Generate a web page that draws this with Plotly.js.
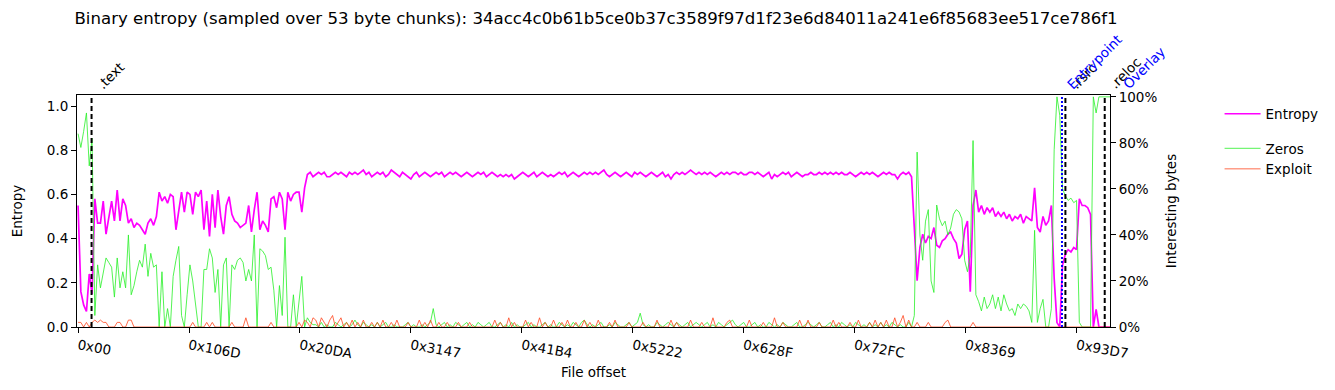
<!DOCTYPE html>
<html>
<head>
<meta charset="utf-8">
<script src="https://cdn.plot.ly/plotly-3.0.1.min.js"></script>
<style>html,body{margin:0;padding:0;background:#fff;}#chart{width:1335px;height:390px;}</style>
</head>
<body>
<div id="chart"></div>
<script>
// ---- data ----
const chunkBytes = 53;      // sampling chunk
const samplesPerPoint = 2;  // each point spans two chunks

const entropy = [
0.55,0.16,0.10,0.07,0.24,0.15,0.58,0.47,0.47,0.57,
0.42,0.50,0.57,0.48,0.62,0.48,0.58,0.55,0.47,0.49,
0.45,0.47,0.46,0.44,0.42,0.47,0.49,0.46,0.50,0.61,
0.57,0.59,0.56,0.60,0.59,0.44,0.53,0.61,0.52,0.61,
0.60,0.51,0.61,0.59,0.62,0.44,0.57,0.41,0.60,0.45,
0.62,0.50,0.42,0.55,0.59,0.51,0.48,0.47,0.45,0.46,
0.47,0.55,0.43,0.53,0.61,0.44,0.48,0.46,0.43,0.58,
0.59,0.54,0.61,0.58,0.44,0.61,0.57,0.60,0.61,0.61,
0.52,0.63,0.69,0.70,0.68,
0.69,0.70,0.69,0.70,0.68,0.68,0.69,0.70,0.69,0.70,
0.69,0.68,0.70,0.69,0.70,0.69,0.70,0.71,0.69,0.70,
0.68,0.69,0.70,0.69,0.70,0.68,0.69,0.71,0.70,0.69,
0.68,0.70,0.69,0.68,0.67,0.69,0.70,0.68,0.69,0.70,
0.69,0.68,0.69,0.70,0.69,0.70,0.68,0.69,0.70,0.69,
0.70,0.69,0.68,0.69,0.70,0.69,0.68,0.69,0.70,0.69,
0.70,0.68,0.69,0.70,0.69,0.68,0.69,0.68,0.69,0.68,
0.69,0.67,0.68,0.69,0.70,0.69,0.68,0.69,0.70,0.68,
0.69,0.70,0.69,0.68,0.69,0.68,0.69,0.70,0.69,0.70,
0.68,0.69,0.70,0.69,0.68,0.69,0.70,0.69,0.70,0.69,
0.70,0.69,0.70,0.71,0.69,0.68,0.69,0.70,0.69,0.68,
0.69,0.70,0.69,0.68,0.70,0.69,0.70,0.69,0.68,0.69,
0.70,0.69,0.68,0.69,0.70,0.68,0.69,0.67,0.69,0.70,
0.69,0.70,0.69,0.70,0.71,0.70,0.69,0.70,0.69,0.70,
0.69,0.70,0.69,0.68,0.69,0.70,0.69,0.70,0.69,0.70,
0.70,0.69,0.70,0.69,0.69,0.70,0.70,0.69,0.70,0.69,
0.68,0.69,0.70,0.67,0.69,0.68,0.69,0.70,0.69,0.70,
0.68,0.69,0.70,0.69,0.68,0.69,0.69,0.70,0.69,0.69,
0.70,0.69,0.70,0.69,0.70,0.69,0.70,0.69,0.70,0.69,
0.69,0.70,0.69,0.68,0.69,0.70,0.69,0.70,0.69,0.70,
0.69,0.68,0.69,0.70,0.69,0.70,0.69,0.69,0.67,0.69,
0.70,
0.69,0.70,0.68,0.45,0.21,0.36,0.42,0.38,0.41,0.40,
0.45,0.37,0.36,0.39,0.40,0.42,0.43,0.40,0.38,0.31,
0.33,0.44,0.48,0.16,0.55,0.62,0.52,0.55,0.51,0.54,
0.52,0.54,0.50,0.52,0.50,0.52,0.49,0.51,0.48,0.50,
0.49,0.51,0.47,0.50,0.49,0.48,0.63,0.45,0.43,0.50,
0.46,0.48,0.55,0.22,0.02,0.00,0.28,0.33,0.35,0.34,
0.36,0.35,0.58,0.55,0.55,0.54,0.51,0.00,0.08,0.00,
0.00,0.00,0.00,0.00,0.00
];

const zeros = [
0.84,0.78,0.85,0.93,0.70,0.82,0.05,0.27,0.17,0.24,
0.30,0.28,0.26,0.13,0.30,0.17,0.24,0.17,0.40,0.14,
0.18,0.24,0.29,0.26,0.36,0.22,0.32,0.26,0.27,0.00,
0.24,0.00,0.08,0.00,0.22,0.29,0.35,0.05,0.00,0.14,
0.27,0.20,0.10,0.00,0.00,0.25,0.25,0.34,0.30,0.15,
0.25,0.00,0.27,0.30,0.00,0.27,0.25,0.29,0.30,0.28,
0.20,0.25,0.20,0.40,0.00,0.34,0.33,0.31,0.25,0.26,
0.16,0.00,0.18,0.05,0.39,0.00,0.00,0.14,0.00,0.10,
0.22,0.00,0.04,0.02,0.01,
0.01,0.00,0.02,0.00,0.01,0.00,0.00,0.02,0.01,0.00,
0.01,0.02,0.00,0.01,0.03,0.01,0.00,0.02,0.01,0.00,
0.01,0.00,0.02,0.00,0.01,0.02,0.00,0.00,0.01,0.00,
0.00,0.00,0.01,0.02,0.00,0.01,0.00,0.00,0.01,0.00,
0.01,0.02,0.08,0.01,0.00,0.01,0.02,0.00,0.01,0.00,
0.02,0.01,0.00,0.01,0.02,0.00,0.01,0.00,0.02,0.01,
0.00,0.01,0.02,0.00,0.00,0.01,0.02,0.00,0.01,0.00,
0.02,0.00,0.01,0.00,0.00,0.01,0.02,0.00,0.01,0.00,
0.00,0.01,0.02,0.00,0.01,0.00,0.00,0.02,0.01,0.00,
0.01,0.00,0.02,0.01,0.00,0.02,0.03,0.01,0.00,0.01,
0.00,0.01,0.02,0.00,0.00,0.01,0.00,0.02,0.01,0.00,
0.00,0.01,0.02,0.00,0.01,0.02,0.06,0.01,0.00,0.01,
0.00,0.00,0.02,0.01,0.00,0.01,0.02,0.01,0.00,0.02,
0.01,0.00,0.01,0.02,0.00,0.01,0.02,0.01,0.00,0.01,
0.02,0.00,0.01,0.00,0.02,0.01,0.00,0.01,0.02,0.03,
0.01,0.00,0.01,0.02,0.00,0.00,0.01,0.02,0.00,0.01,
0.00,0.00,0.02,0.01,0.00,0.01,0.00,0.02,0.01,0.00,
0.00,0.01,0.02,0.00,0.00,0.01,0.02,0.01,0.00,0.01,
0.02,0.00,0.00,0.01,0.02,0.00,0.01,0.00,0.02,0.01,
0.00,0.01,0.00,0.02,0.01,0.00,0.01,0.00,0.02,0.00,
0.01,0.00,0.02,0.00,0.01,0.00,0.02,0.01,0.00,0.01,
0.00,
0.00,0.02,0.00,0.05,0.76,0.40,0.29,0.46,0.51,0.20,
0.15,0.53,0.47,0.44,0.46,0.40,0.43,0.49,0.51,0.50,
0.47,0.29,0.24,0.31,0.81,0.14,0.11,0.07,0.13,0.08,
0.10,0.14,0.08,0.13,0.07,0.14,0.10,0.07,0.08,0.05,
0.10,0.08,0.10,0.09,0.07,0.02,0.42,0.02,0.08,0.12,
0.00,0.00,0.08,0.77,1.00,0.92,0.60,0.57,0.55,0.56,
0.54,0.55,0.02,0.00,0.00,0.00,0.00,1.00,0.93,1.00,
1.00,1.00,1.00,1.00,1.00
];

const exploit = [
0.02,0.02,0.00,0.02,0.00,0.02,0.03,0.02,0.03,0.02,
0.02,0.00,0.00,0.00,0.02,0.02,0.00,0.00,0.03,0.03,
0.00,0.00,0.00,0.00,0.00,0.00,0.00,0.00,0.00,0.00,
0.00,0.00,0.00,0.00,0.00,0.00,0.00,0.00,0.00,0.00,
0.00,0.02,0.00,0.00,0.00,0.00,0.02,0.00,0.02,0.00,
0.00,0.00,0.00,0.00,0.00,0.02,0.00,0.00,0.00,0.00,
0.04,0.00,0.00,0.00,0.00,0.00,0.00,0.00,0.00,0.02,
0.00,0.00,0.00,0.00,0.00,0.00,0.00,0.00,0.00,0.02,
0.00,0.03,0.02,0.00,0.04,
0.03,0.00,0.04,0.02,0.00,0.03,0.05,0.00,0.02,0.04,
0.00,0.02,0.00,0.03,0.00,0.02,0.00,0.03,0.00,0.00,
0.02,0.00,0.02,0.00,0.03,0.00,0.00,0.02,0.00,0.03,
0.00,0.00,0.00,0.02,0.00,0.00,0.00,0.03,0.00,0.02,
0.00,0.03,0.00,0.00,0.02,0.00,0.00,0.02,0.00,0.00,
0.00,0.02,0.00,0.00,0.00,0.02,0.00,0.00,0.00,0.00,
0.00,0.00,0.00,0.00,0.03,0.00,0.02,0.00,0.00,0.04,
0.00,0.02,0.00,0.00,0.00,0.03,0.00,0.02,0.00,0.00,
0.04,0.00,0.02,0.00,0.00,0.03,0.00,0.00,0.02,0.00,
0.03,0.00,0.00,0.02,0.00,0.00,0.03,0.00,0.02,0.00,
0.00,0.03,0.00,0.00,0.00,0.02,0.00,0.03,0.00,0.00,
0.00,0.00,0.02,0.00,0.00,0.00,0.00,0.02,0.00,0.00,
0.00,0.00,0.03,0.00,0.00,0.00,0.00,0.03,0.00,0.02,
0.00,0.00,0.00,0.00,0.03,0.00,0.00,0.00,0.02,0.00,
0.00,0.00,0.04,0.00,0.00,0.00,0.00,0.02,0.03,0.00,
0.00,0.00,0.00,0.00,0.00,0.03,0.00,0.00,0.00,0.00,
0.02,0.00,0.00,0.00,0.04,0.00,0.00,0.02,0.00,0.00,
0.00,0.00,0.00,0.03,0.00,0.00,0.03,0.00,0.00,0.00,
0.02,0.00,0.00,0.00,0.00,0.03,0.00,0.02,0.00,0.00,
0.00,0.02,0.00,0.00,0.03,0.00,0.00,0.00,0.02,0.00,
0.03,0.00,0.02,0.00,0.03,0.00,0.00,0.04,0.00,0.02,
0.05,
0.00,0.03,0.00,0.00,0.02,0.00,0.00,0.00,0.02,0.00,
0.00,0.00,0.00,0.00,0.02,0.03,0.00,0.00,0.00,0.00,
0.00,0.00,0.00,0.00,0.02,0.00,0.00,0.00,0.00,0.00,
0.00,0.00,0.00,0.00,0.00,0.00,0.00,0.00,0.00,0.00,
0.00,0.00,0.00,0.00,0.00,0.00,0.00,0.00,0.00,0.00,
0.00,0.00,0.00,0.00,0.00,0.00,0.00,0.00,0.00,0.00,
0.00,0.00,0.00,0.00,0.00,0.00,0.00,0.00,0.00,0.00,
0.00,0.00,0.00,0.00,0.00
];

const tickOffsets = [0, 4205, 8410, 12615, 16820, 21026, 25231, 29436, 33641, 37847];
const tickLabels  = ['0x00','0x106D','0x20DA','0x3147','0x41B4','0x5222','0x628F','0x72FC','0x8369','0x93D7'];

const sectionNames   = ['.text', '.rsrc', '.reloc'];
const sectionOffsets = [512, 37420, 38910];
const markerNames    = ['Entrypoint', 'Overlay'];
const markerOffsets  = [37290, 39110];
const fileEnd = 39110;

const sha = '34acc4c0b61b5ce0b37c3589f97d1f23e6d84011a241e6f85683ee517ce786f1';

// ---- chart ----
const offsets = entropy.map((_, i) => i * chunkBytes * samplesPerPoint);
const FONT = 'DejaVu Sans, sans-serif';

const traces = [
  {x: offsets, y: entropy, type: 'scatter', mode: 'lines', name: 'Entropy',
   line: {color: '#ff00ff', width: 1.7}, legendgroup: 'a', xaxis: 'x', yaxis: 'y'},
  {x: offsets, y: zeros, type: 'scatter', mode: 'lines', name: 'Zeros',
   line: {color: 'rgba(40,240,40,0.8)', width: 1}, legendgroup: 'b', xaxis: 'x', yaxis: 'y2'},
  {x: offsets, y: exploit, type: 'scatter', mode: 'lines', name: 'Exploit',
   line: {color: 'rgba(255,70,30,0.8)', width: 1}, legendgroup: 'b', xaxis: 'x', yaxis: 'y2'}
];

const shapes = [];
const annotations = [];
sectionOffsets.forEach((off, k) => {
  shapes.push({type: 'line', xref: 'x', yref: 'paper', x0: off, x1: off, y0: 0, y1: 1,
               line: {color: '#000', width: 2, dash: '5px,3px'}});
  annotations.push({xref: 'x', yref: 'paper', x: off, y: 1, xanchor: 'left', yanchor: 'bottom',
                    text: sectionNames[k], showarrow: false, textangle: -45, yshift: 0, xshift: -1,
                    font: {family: FONT, size: 13.5, color: '#000'}});
});
markerOffsets.forEach((off, k) => {
  const atEnd = off >= fileEnd;
  if (!atEnd) {
    shapes.push({type: 'line', xref: 'x', yref: 'paper', x0: off, x1: off, y0: 0, y1: 1,
                 line: {color: '#0000ff', width: 2, dash: '2px,2px'}});
  }
  annotations.push({xref: 'x', yref: 'paper', x: off, y: 1, xanchor: 'left', yanchor: 'bottom',
                    text: markerNames[k], showarrow: false, textangle: -45, yshift: 0,
                    xshift: atEnd ? 7 : -1,
                    font: {family: FONT, size: 13.5, color: '#0000ff'}});
});

const layout = {
  width: 1335, height: 390,
  margin: {l: 77, r: 224, t: 95, b: 63, pad: 0},
  paper_bgcolor: '#fff', plot_bgcolor: '#fff',
  font: {family: FONT, size: 13.5, color: '#000'},
  title: {text: 'Binary entropy (sampled over 53 byte chunks): ' + sha,
          x: 0.5025, xref: 'paper', xanchor: 'center', y: 0.953, yref: 'container', yanchor: 'middle',
          font: {family: FONT, size: 16.6, color: '#000'}},
  xaxis: {range: [-40, fileEnd], tickvals: tickOffsets, ticktext: tickLabels, tickangle: 10,
          showgrid: false, zeroline: false, showline: true, linecolor: '#000', linewidth: 1, mirror: true,
          ticks: 'outside', ticklen: 5, tickcolor: '#000',
          tickfont: {family: FONT, size: 13.5},
          title: {text: 'File offset', font: {family: FONT, size: 13.5}, standoff: 7}},
  yaxis: {range: [0, 1.05], tickvals: [0, 0.2, 0.4, 0.6, 0.8, 1.0], tickformat: '.1f',
          showgrid: false, zeroline: false, showline: true, linecolor: '#000', linewidth: 1,
          ticks: 'outside', ticklen: 5, tickcolor: '#000',
          tickfont: {family: FONT, size: 13.5},
          title: {text: 'Entropy', font: {family: FONT, size: 13.5}, standoff: 21}},
  yaxis2: {range: [0, 1.008], overlaying: 'y', side: 'right', tickvals: [0, 0.2, 0.4, 0.6, 0.8, 1.0],
           tickformat: '.0%', showgrid: false, zeroline: false, showline: true, linecolor: '#000', linewidth: 1,
           ticks: 'outside', ticklen: 5, tickcolor: '#000',
           tickfont: {family: FONT, size: 13.5},
           title: {text: 'Interesting bytes', font: {family: FONT, size: 13.5}, standoff: 10}},
  showlegend: true,
  legend: {x: 1.105, xanchor: 'left', y: 0.985, yanchor: 'top', traceorder: 'grouped', tracegroupgap: 14,
           bgcolor: 'rgba(0,0,0,0)', font: {family: FONT, size: 13.5}, itemwidth: 36},
  shapes: shapes,
  annotations: annotations
};

Plotly.newPlot('chart', traces, layout, {staticPlot: true, displayModeBar: false});
</script>
</body>
</html>
